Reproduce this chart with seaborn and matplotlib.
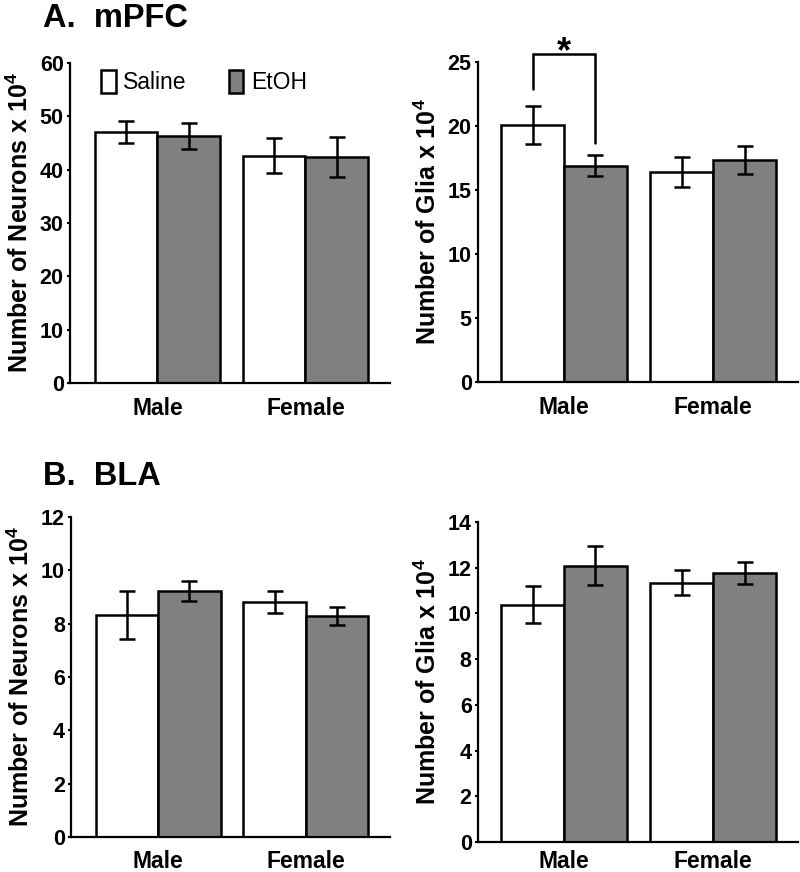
import matplotlib
matplotlib.use("Agg")
import matplotlib.pyplot as plt
import seaborn as sns
import pandas as pd
import numpy as np

# ---------------- data ----------------
sexes = ["Male", "Female"]
treatments = ["Saline", "EtOH"]

a_neuron_saline = [47.1, 42.6]
a_neuron_saline_sem = [2.1, 3.25]
a_neuron_etoh = [46.3, 42.4]
a_neuron_etoh_sem = [2.45, 3.7]

a_glia_saline = [20.1, 16.4]
a_glia_saline_sem = [1.5, 1.2]
a_glia_etoh = [16.9, 17.35]
a_glia_etoh_sem = [0.8, 1.1]

b_neuron_saline = [8.34, 8.81]
b_neuron_saline_sem = [0.9, 0.4]
b_neuron_etoh = [9.22, 8.29]
b_neuron_etoh_sem = [0.38, 0.34]

b_glia_saline = [10.37, 11.34]
b_glia_saline_sem = [0.81, 0.55]
b_glia_etoh = [12.09, 11.78]
b_glia_etoh_sem = [0.86, 0.49]

sns.set_theme(style="ticks")
plt.rcParams["font.family"] = ["Liberation Sans", "DejaVu Sans"]
plt.rcParams["mathtext.fontset"] = "custom"
plt.rcParams["mathtext.rm"] = "Liberation Sans"
plt.rcParams["mathtext.bf"] = "Liberation Sans:bold"
plt.rcParams["mathtext.default"] = "regular"
for k in ["text.color", "axes.labelcolor", "xtick.color", "ytick.color", "axes.edgecolor"]:
    plt.rcParams[k] = "black"

fig = plt.figure(figsize=(8, 8.72), dpi=100)

W, H = 800, 872


def axes_px(x0, x1, ytop, ybot):
    return fig.add_axes([x0 / W, (H - ybot) / H, (x1 - x0) / W, (ybot - ytop) / H])


def panel(ax, sal, sal_sem, eto, eto_sem, ylim, step, ylabel, xlim, xpad=10):
    df = pd.DataFrame({
        "sex": sexes + sexes,
        "treatment": [treatments[0]] * 2 + [treatments[1]] * 2,
        "value": list(sal) + list(eto),
    })
    sns.barplot(data=df, x="sex", y="value", hue="treatment", order=sexes,
                hue_order=treatments, palette=["white", "#808080"],
                edgecolor="black", linewidth=1.8, errorbar=None, width=0.845,
                saturation=1, ax=ax, legend=False)
    sems = list(sal_sem) + list(eto_sem)
    bars = [p for p in ax.patches][:4]
    xs = [p.get_x() + p.get_width() / 2 for p in bars]
    ys = [p.get_height() for p in bars]
    ax.errorbar(xs, ys, yerr=sems, fmt="none", ecolor="black", elinewidth=1.8,
                capsize=5.5, capthick=1.8, zorder=5)
    ax.set_ylim(*ylim)
    ax.set_yticks(np.arange(ylim[0], ylim[1] + 0.001, step))
    ax.set_xlim(*xlim)
    ax.set_xlabel("")
    ax.set_ylabel(ylabel, fontsize=18, fontweight="bold", labelpad=5)
    sns.despine(ax=ax)
    for s in ["left", "bottom"]:
        ax.spines[s].set_linewidth(1.6)
        ax.spines[s].set_color("black")
    ax.tick_params(axis="y", length=2.5, width=1.5, pad=2, labelsize=15.5, colors="black")
    ax.tick_params(axis="x", length=0, pad=xpad, labelsize=16.5, colors="black")
    for lab in ax.get_yticklabels() + ax.get_xticklabels():
        lab.set_fontweight("bold")
    return bars


axA1 = axes_px(70, 390, 63, 383)
axA2 = axes_px(478, 798, 62, 382)
axB1 = axes_px(71, 390, 517, 837)
axB2 = axes_px(478, 798, 522, 842)

barsA1 = panel(axA1, a_neuron_saline, a_neuron_saline_sem, a_neuron_etoh, a_neuron_etoh_sem,
               (0, 60), 10, "Number of Neurons x 10$^{4}$", (-0.591, 1.571))
barsA2 = panel(axA2, a_glia_saline, a_glia_saline_sem, a_glia_etoh, a_glia_etoh_sem,
               (0, 25), 5, "Number of Glia x 10$^{4}$", (-0.577, 1.57))
barsB1 = panel(axB1, b_neuron_saline, b_neuron_saline_sem, b_neuron_etoh, b_neuron_etoh_sem,
               (0, 12), 2, "Number of Neurons x 10$^{4}$", (-0.591, 1.571), xpad=9)
barsB2 = panel(axB2, b_glia_saline, b_glia_saline_sem, b_glia_etoh, b_glia_etoh_sem,
               (0, 14), 2, "Number of Glia x 10$^{4}$", (-0.577, 1.57), xpad=6)

# legend in panel A left
handles = [barsA1[0], barsA1[2]]
axA1.legend(handles, treatments, loc="upper left", bbox_to_anchor=(0.098, 0.978),
            ncol=2, frameon=False, fontsize=16.5, handlelength=0.62, handleheight=1.15,
            handletextpad=0.33, columnspacing=1.85, borderaxespad=0, borderpad=0)

# significance bracket in panel A right
x_l = barsA2[0].get_x() + barsA2[0].get_width() / 2
x_r = barsA2[2].get_x() + barsA2[2].get_width() / 2
axA2.plot([x_l, x_l, x_r, x_r], [22.9, 25.6, 25.6, 18.7], color="black", lw=1.8,
          clip_on=False, solid_joinstyle="miter")
axA2.text((x_l + x_r) / 2, 25.0, "*", ha="center", va="baseline", fontsize=26,
          fontweight="bold", clip_on=False)

fig.text(43 / W, 1 - 27 / H, "A.  mPFC", fontsize=23.5, fontweight="bold", ha="left", va="baseline")
fig.text(43 / W, 1 - 485 / H, "B.  BLA", fontsize=23.5, fontweight="bold", ha="left", va="baseline")

fig.savefig("out.png", dpi=100)
